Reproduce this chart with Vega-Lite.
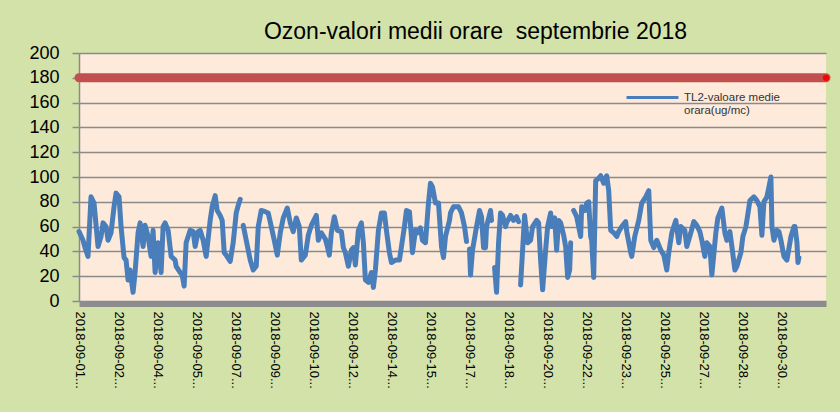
{
  "$schema": "https://vega.github.io/schema/vega-lite/v6.json",
  "width": 747,
  "height": 248,
  "autosize": {"type": "none"},
  "padding": {"left": 79, "top": 53, "right": 14, "bottom": 111},
  "background": "#D3E2A9",
  "title": {
    "text": "Ozon-valori medii orare \u00a0septembrie 2018",
    "font": "Liberation Sans",
    "fontSize": 23,
    "fontWeight": "normal",
    "color": "#000000",
    "anchor": "middle",
    "dx": 23,
    "offset": 0
  },
  "config": {"view": {"fill": "#FDEADA", "stroke": null}},
  "encoding": {
    "x": {
      "field": "t",
      "type": "temporal",
      "scale": {"domain": [{"year": 2018, "month": 9, "date": 1, "hours": 0}, {"year": 2018, "month": 10, "date": 2, "hours": 2}]},
      "axis": {
        "title": null,
        "values": [
          {"year": 2018, "month": 9, "date": 1, "hours": 0},
          {"year": 2018, "month": 9, "date": 2, "hours": 15},
          {"year": 2018, "month": 9, "date": 4, "hours": 6},
          {"year": 2018, "month": 9, "date": 5, "hours": 21},
          {"year": 2018, "month": 9, "date": 7, "hours": 12},
          {"year": 2018, "month": 9, "date": 9, "hours": 3},
          {"year": 2018, "month": 9, "date": 10, "hours": 18},
          {"year": 2018, "month": 9, "date": 12, "hours": 9},
          {"year": 2018, "month": 9, "date": 14, "hours": 0},
          {"year": 2018, "month": 9, "date": 15, "hours": 15},
          {"year": 2018, "month": 9, "date": 17, "hours": 6},
          {"year": 2018, "month": 9, "date": 18, "hours": 21},
          {"year": 2018, "month": 9, "date": 20, "hours": 12},
          {"year": 2018, "month": 9, "date": 22, "hours": 3},
          {"year": 2018, "month": 9, "date": 23, "hours": 18},
          {"year": 2018, "month": 9, "date": 25, "hours": 9},
          {"year": 2018, "month": 9, "date": 27, "hours": 0},
          {"year": 2018, "month": 9, "date": 28, "hours": 15},
          {"year": 2018, "month": 9, "date": 30, "hours": 6}
        ],
        "labelExpr": "timeFormat(datum.value, '%Y-%m-%d') + '...'",
        "labelAngle": 90,
        "labelAlign": "left",
        "labelBaseline": "middle",
        "labelFont": "Liberation Sans",
        "labelFontSize": 13,
        "labelColor": "#000000",
        "labelPadding": 7,
        "labelOverlap": false,
        "labelBound": false,
        "labelFlush": false,
        "ticks": false,
        "grid": false,
        "offset": 3,
        "domainColor": "#8C8C8C",
        "domainWidth": 5
      }
    },
    "y": {
      "field": "v",
      "type": "quantitative",
      "scale": {"domain": [0, 200], "nice": false},
      "axis": {
        "title": null,
        "values": [0, 20, 40, 60, 80, 100, 120, 140, 160, 180, 200],
        "labelFont": "Liberation Sans",
        "labelFontSize": 18,
        "labelColor": "#000000",
        "labelPadding": 13,
        "tickSize": 7,
        "tickColor": "#8A8A8A",
        "tickWidth": 1.5,
        "domainColor": "#8A8A8A",
        "domainWidth": 1.5,
        "gridColor": "#8A8A8A",
        "gridWidth": 1.5
      }
    }
  },
  "layer": [
    {
      "data": {"values": [{"t": "2018-09-01T00:00", "v": 180}, {"t": "2018-10-02T02:00", "v": 180}]},
      "mark": {"type": "line", "color": "#C0504D", "strokeWidth": 9, "strokeCap": "round"}
    },
    {
      "data": {"values": [{"t": "2018-10-02T02:00", "v": 180}]},
      "mark": {"type": "point", "filled": true, "color": "#FF0000", "size": 40, "opacity": 1}
    },
    {
      "data": {"values": [
        {"t": "2018-09-01T00:00", "v": 56}, {"t": "2018-09-01T04:00", "v": 49}, {"t": "2018-09-01T06:00", "v": 43},
        {"t": "2018-09-01T09:00", "v": 36}, {"t": "2018-09-01T12:00", "v": 84}, {"t": "2018-09-01T15:00", "v": 79},
        {"t": "2018-09-01T19:00", "v": 44}, {"t": "2018-09-01T22:00", "v": 52}, {"t": "2018-09-02T00:00", "v": 63},
        {"t": "2018-09-02T03:00", "v": 60}, {"t": "2018-09-02T05:00", "v": 49}, {"t": "2018-09-02T08:00", "v": 55},
        {"t": "2018-09-02T11:00", "v": 76}, {"t": "2018-09-02T13:00", "v": 87}, {"t": "2018-09-02T16:00", "v": 84},
        {"t": "2018-09-02T18:00", "v": 60}, {"t": "2018-09-02T21:00", "v": 35}, {"t": "2018-09-02T23:00", "v": 33},
        {"t": "2018-09-03T01:00", "v": 17}, {"t": "2018-09-03T03:00", "v": 25}, {"t": "2018-09-03T06:00", "v": 7},
        {"t": "2018-09-03T08:00", "v": 23}, {"t": "2018-09-03T11:00", "v": 55}, {"t": "2018-09-03T13:00", "v": 63},
        {"t": "2018-09-03T16:00", "v": 44}, {"t": "2018-09-03T18:00", "v": 61}, {"t": "2018-09-03T21:00", "v": 52},
        {"t": "2018-09-04T00:00", "v": 36}, {"t": "2018-09-04T02:00", "v": 57}, {"t": "2018-09-04T04:00", "v": 23},
        {"t": "2018-09-04T07:00", "v": 47}, {"t": "2018-09-04T10:00", "v": 23}, {"t": "2018-09-04T12:00", "v": 60},
        {"t": "2018-09-04T14:00", "v": 63}, {"t": "2018-09-04T17:00", "v": 57}, {"t": "2018-09-04T20:00", "v": 36},
        {"t": "2018-09-05T00:00", "v": 33}, {"t": "2018-09-05T01:00", "v": 28}, {"t": "2018-09-05T05:00", "v": 23},
        {"t": "2018-09-05T07:00", "v": 21}, {"t": "2018-09-05T09:00", "v": 12}, {"t": "2018-09-05T11:00", "v": 47},
        {"t": "2018-09-05T15:00", "v": 57}, {"t": "2018-09-05T18:00", "v": 56}, {"t": "2018-09-05T20:00", "v": 44},
        {"t": "2018-09-05T23:00", "v": 56}, {"t": "2018-09-06T01:00", "v": 57}, {"t": "2018-09-06T04:00", "v": 49},
        {"t": "2018-09-06T07:00", "v": 36}, {"t": "2018-09-06T11:00", "v": 65}, {"t": "2018-09-06T13:00", "v": 76},
        {"t": "2018-09-06T16:00", "v": 85}, {"t": "2018-09-06T18:00", "v": 73}, {"t": "2018-09-06T21:00", "v": 69},
        {"t": "2018-09-06T23:00", "v": 65}, {"t": "2018-09-07T01:00", "v": 39}, {"t": "2018-09-07T03:00", "v": 37},
        {"t": "2018-09-07T07:00", "v": 32}, {"t": "2018-09-07T10:00", "v": 47}, {"t": "2018-09-07T13:00", "v": 71},
        {"t": "2018-09-07T15:00", "v": 77}, {"t": "2018-09-07T17:00", "v": 82}, {"t": "2018-09-07T18:00", "v": null},
        {"t": "2018-09-07T20:00", "v": 61}, {"t": "2018-09-07T23:00", "v": 49}, {"t": "2018-09-08T03:00", "v": 33},
        {"t": "2018-09-08T06:00", "v": 25}, {"t": "2018-09-08T09:00", "v": 28}, {"t": "2018-09-08T11:00", "v": 60},
        {"t": "2018-09-08T14:00", "v": 73}, {"t": "2018-09-08T18:00", "v": 72}, {"t": "2018-09-08T21:00", "v": 71},
        {"t": "2018-09-09T00:00", "v": 60}, {"t": "2018-09-09T03:00", "v": 49}, {"t": "2018-09-09T06:00", "v": 37},
        {"t": "2018-09-09T09:00", "v": 55}, {"t": "2018-09-09T12:00", "v": 67}, {"t": "2018-09-09T16:00", "v": 75},
        {"t": "2018-09-09T19:00", "v": 63}, {"t": "2018-09-09T22:00", "v": 56}, {"t": "2018-09-10T01:00", "v": 67},
        {"t": "2018-09-10T04:00", "v": 60}, {"t": "2018-09-10T06:00", "v": 33}, {"t": "2018-09-10T10:00", "v": 37},
        {"t": "2018-09-10T13:00", "v": 53}, {"t": "2018-09-10T16:00", "v": 61}, {"t": "2018-09-10T21:00", "v": 69},
        {"t": "2018-09-10T23:00", "v": 49}, {"t": "2018-09-11T02:00", "v": 55}, {"t": "2018-09-11T06:00", "v": 50},
        {"t": "2018-09-11T08:00", "v": 44}, {"t": "2018-09-11T10:00", "v": 37}, {"t": "2018-09-11T12:00", "v": 55},
        {"t": "2018-09-11T15:00", "v": 68}, {"t": "2018-09-11T18:00", "v": 57}, {"t": "2018-09-11T22:00", "v": 56},
        {"t": "2018-09-12T00:00", "v": 43}, {"t": "2018-09-12T02:00", "v": 39}, {"t": "2018-09-12T05:00", "v": 28},
        {"t": "2018-09-12T08:00", "v": 41}, {"t": "2018-09-12T10:00", "v": 43}, {"t": "2018-09-12T12:00", "v": 29},
        {"t": "2018-09-12T15:00", "v": 57}, {"t": "2018-09-12T18:00", "v": 63}, {"t": "2018-09-12T20:00", "v": 47},
        {"t": "2018-09-12T22:00", "v": 17}, {"t": "2018-09-13T01:00", "v": 15}, {"t": "2018-09-13T04:00", "v": 23},
        {"t": "2018-09-13T06:00", "v": 11}, {"t": "2018-09-13T08:00", "v": 25}, {"t": "2018-09-13T11:00", "v": 57},
        {"t": "2018-09-13T14:00", "v": 71}, {"t": "2018-09-13T17:00", "v": 71}, {"t": "2018-09-13T19:00", "v": 57},
        {"t": "2018-09-13T22:00", "v": 39}, {"t": "2018-09-14T00:00", "v": 31}, {"t": "2018-09-14T04:00", "v": 33},
        {"t": "2018-09-14T08:00", "v": 33}, {"t": "2018-09-14T11:00", "v": 49}, {"t": "2018-09-14T13:00", "v": 60},
        {"t": "2018-09-14T15:00", "v": 73}, {"t": "2018-09-14T18:00", "v": 72}, {"t": "2018-09-14T20:00", "v": 52},
        {"t": "2018-09-14T21:00", "v": 39}, {"t": "2018-09-15T00:00", "v": 57}, {"t": "2018-09-15T02:00", "v": 55},
        {"t": "2018-09-15T05:00", "v": 59}, {"t": "2018-09-15T07:00", "v": 49}, {"t": "2018-09-15T10:00", "v": 47},
        {"t": "2018-09-15T13:00", "v": 79}, {"t": "2018-09-15T15:00", "v": 95}, {"t": "2018-09-15T17:00", "v": 92},
        {"t": "2018-09-15T20:00", "v": 79}, {"t": "2018-09-15T23:00", "v": 79}, {"t": "2018-09-16T02:00", "v": 44},
        {"t": "2018-09-16T04:00", "v": 35}, {"t": "2018-09-16T06:00", "v": 52}, {"t": "2018-09-16T10:00", "v": 65},
        {"t": "2018-09-16T11:00", "v": 71}, {"t": "2018-09-16T14:00", "v": 76}, {"t": "2018-09-16T19:00", "v": 76},
        {"t": "2018-09-16T22:00", "v": 71}, {"t": "2018-09-17T01:00", "v": 60}, {"t": "2018-09-17T03:00", "v": 48},
        {"t": "2018-09-17T05:00", "v": null}, {"t": "2018-09-17T06:00", "v": 42}, {"t": "2018-09-17T07:00", "v": 21},
        {"t": "2018-09-17T09:00", "v": 41}, {"t": "2018-09-17T13:00", "v": 60}, {"t": "2018-09-17T16:00", "v": 73},
        {"t": "2018-09-17T18:00", "v": 68}, {"t": "2018-09-17T20:00", "v": 43}, {"t": "2018-09-17T22:00", "v": 43},
        {"t": "2018-09-17T23:00", "v": 60}, {"t": "2018-09-18T03:00", "v": 73}, {"t": "2018-09-18T04:00", "v": 65},
        {"t": "2018-09-18T05:00", "v": null}, {"t": "2018-09-18T07:00", "v": 27}, {"t": "2018-09-18T09:00", "v": 7},
        {"t": "2018-09-18T11:00", "v": 47}, {"t": "2018-09-18T13:00", "v": 71}, {"t": "2018-09-18T15:00", "v": 69},
        {"t": "2018-09-18T18:00", "v": 60}, {"t": "2018-09-18T19:00", "v": 63}, {"t": "2018-09-18T23:00", "v": 69},
        {"t": "2018-09-19T02:00", "v": 65}, {"t": "2018-09-19T05:00", "v": 68}, {"t": "2018-09-19T07:00", "v": 64},
        {"t": "2018-09-19T08:00", "v": null}, {"t": "2018-09-19T09:00", "v": 13}, {"t": "2018-09-19T11:00", "v": 41},
        {"t": "2018-09-19T13:00", "v": 69}, {"t": "2018-09-19T16:00", "v": 47}, {"t": "2018-09-19T19:00", "v": 49},
        {"t": "2018-09-19T21:00", "v": 60}, {"t": "2018-09-20T01:00", "v": 65}, {"t": "2018-09-20T03:00", "v": 63},
        {"t": "2018-09-20T05:00", "v": 33}, {"t": "2018-09-20T07:00", "v": 9}, {"t": "2018-09-20T10:00", "v": 41},
        {"t": "2018-09-20T12:00", "v": 60}, {"t": "2018-09-20T15:00", "v": 71}, {"t": "2018-09-20T16:00", "v": 60},
        {"t": "2018-09-20T19:00", "v": 67}, {"t": "2018-09-20T21:00", "v": 41}, {"t": "2018-09-20T23:00", "v": 65},
        {"t": "2018-09-21T01:00", "v": 63}, {"t": "2018-09-21T04:00", "v": 53}, {"t": "2018-09-21T06:00", "v": 44},
        {"t": "2018-09-21T08:00", "v": 19}, {"t": "2018-09-21T10:00", "v": 25}, {"t": "2018-09-21T11:00", "v": 47},
        {"t": "2018-09-21T12:00", "v": null}, {"t": "2018-09-21T14:00", "v": 73}, {"t": "2018-09-21T17:00", "v": 68},
        {"t": "2018-09-21T21:00", "v": 52}, {"t": "2018-09-21T22:00", "v": 76}, {"t": "2018-09-22T01:00", "v": 73},
        {"t": "2018-09-22T03:00", "v": 79}, {"t": "2018-09-22T05:00", "v": 80}, {"t": "2018-09-22T07:00", "v": 52},
        {"t": "2018-09-22T08:00", "v": 49}, {"t": "2018-09-22T10:00", "v": 19}, {"t": "2018-09-22T12:00", "v": 97},
        {"t": "2018-09-22T15:00", "v": 99}, {"t": "2018-09-22T17:00", "v": 101}, {"t": "2018-09-22T20:00", "v": 95},
        {"t": "2018-09-22T23:00", "v": 101}, {"t": "2018-09-23T01:00", "v": 89}, {"t": "2018-09-23T03:00", "v": 57},
        {"t": "2018-09-23T06:00", "v": 55}, {"t": "2018-09-23T09:00", "v": 52}, {"t": "2018-09-23T11:00", "v": 56},
        {"t": "2018-09-23T14:00", "v": 60}, {"t": "2018-09-23T18:00", "v": 64}, {"t": "2018-09-23T19:00", "v": 56},
        {"t": "2018-09-23T23:00", "v": 39}, {"t": "2018-09-24T00:00", "v": 36}, {"t": "2018-09-24T03:00", "v": 52},
        {"t": "2018-09-24T07:00", "v": 65}, {"t": "2018-09-24T10:00", "v": 79}, {"t": "2018-09-24T14:00", "v": 84},
        {"t": "2018-09-24T17:00", "v": 89}, {"t": "2018-09-24T19:00", "v": 49}, {"t": "2018-09-24T22:00", "v": 43},
        {"t": "2018-09-25T01:00", "v": 49}, {"t": "2018-09-25T05:00", "v": 41}, {"t": "2018-09-25T08:00", "v": 37},
        {"t": "2018-09-25T11:00", "v": 25}, {"t": "2018-09-25T13:00", "v": 39}, {"t": "2018-09-25T16:00", "v": 55},
        {"t": "2018-09-25T20:00", "v": 65}, {"t": "2018-09-25T23:00", "v": 47}, {"t": "2018-09-26T01:00", "v": 60},
        {"t": "2018-09-26T05:00", "v": 57}, {"t": "2018-09-26T07:00", "v": 44}, {"t": "2018-09-26T11:00", "v": 55},
        {"t": "2018-09-26T14:00", "v": 64}, {"t": "2018-09-26T17:00", "v": 61}, {"t": "2018-09-26T20:00", "v": 56},
        {"t": "2018-09-26T22:00", "v": 49}, {"t": "2018-09-27T01:00", "v": 36}, {"t": "2018-09-27T03:00", "v": 47},
        {"t": "2018-09-27T06:00", "v": 44}, {"t": "2018-09-27T08:00", "v": 21}, {"t": "2018-09-27T12:00", "v": 55},
        {"t": "2018-09-27T14:00", "v": 67}, {"t": "2018-09-27T18:00", "v": 75}, {"t": "2018-09-27T21:00", "v": 55},
        {"t": "2018-09-27T23:00", "v": 49}, {"t": "2018-09-28T02:00", "v": 56}, {"t": "2018-09-28T04:00", "v": 44},
        {"t": "2018-09-28T07:00", "v": 25}, {"t": "2018-09-28T09:00", "v": 28}, {"t": "2018-09-28T13:00", "v": 39},
        {"t": "2018-09-28T15:00", "v": 52}, {"t": "2018-09-28T18:00", "v": 60}, {"t": "2018-09-28T19:00", "v": 65},
        {"t": "2018-09-28T22:00", "v": 81}, {"t": "2018-09-29T02:00", "v": 84}, {"t": "2018-09-29T05:00", "v": 81},
        {"t": "2018-09-29T08:00", "v": 76}, {"t": "2018-09-29T10:00", "v": 53}, {"t": "2018-09-29T12:00", "v": 80},
        {"t": "2018-09-29T15:00", "v": 84}, {"t": "2018-09-29T17:00", "v": 92}, {"t": "2018-09-29T19:00", "v": 100},
        {"t": "2018-09-29T20:00", "v": 60}, {"t": "2018-09-29T22:00", "v": 49}, {"t": "2018-09-30T01:00", "v": 57},
        {"t": "2018-09-30T03:00", "v": 56}, {"t": "2018-09-30T05:00", "v": 49}, {"t": "2018-09-30T08:00", "v": 36},
        {"t": "2018-09-30T11:00", "v": 33}, {"t": "2018-09-30T15:00", "v": 52}, {"t": "2018-09-30T18:00", "v": 60},
        {"t": "2018-09-30T19:00", "v": 60}, {"t": "2018-09-30T21:00", "v": 47}, {"t": "2018-09-30T22:00", "v": 31},
        {"t": "2018-09-30T23:00", "v": 35}
      ]},
      "mark": {
        "type": "line",
        "strokeWidth": 5,
        "strokeJoin": "round",
        "strokeCap": "round",
        "invalid": "break-paths-show-domains"
      },
      "encoding": {
        "color": {
          "datum": "TL2-valoare medie orara(ug/mc)",
          "type": "nominal",
          "scale": {"range": ["#4A7EBB"]},
          "legend": {
            "title": null,
            "orient": "none",
            "legendX": 546,
            "legendY": 17,
            "symbolType": "stroke",
            "symbolSize": 2700,
            "symbolStrokeWidth": 3,
            "labelFont": "Liberation Sans",
            "labelFontSize": 11.5,
            "labelColor": "#333333",
            "labelLimit": 300,
            "labelBaseline": "middle",
            "labelExpr": "['TL2-valoare medie', 'orara(ug/mc)']"
          }
        }
      }
    }
  ]
}
